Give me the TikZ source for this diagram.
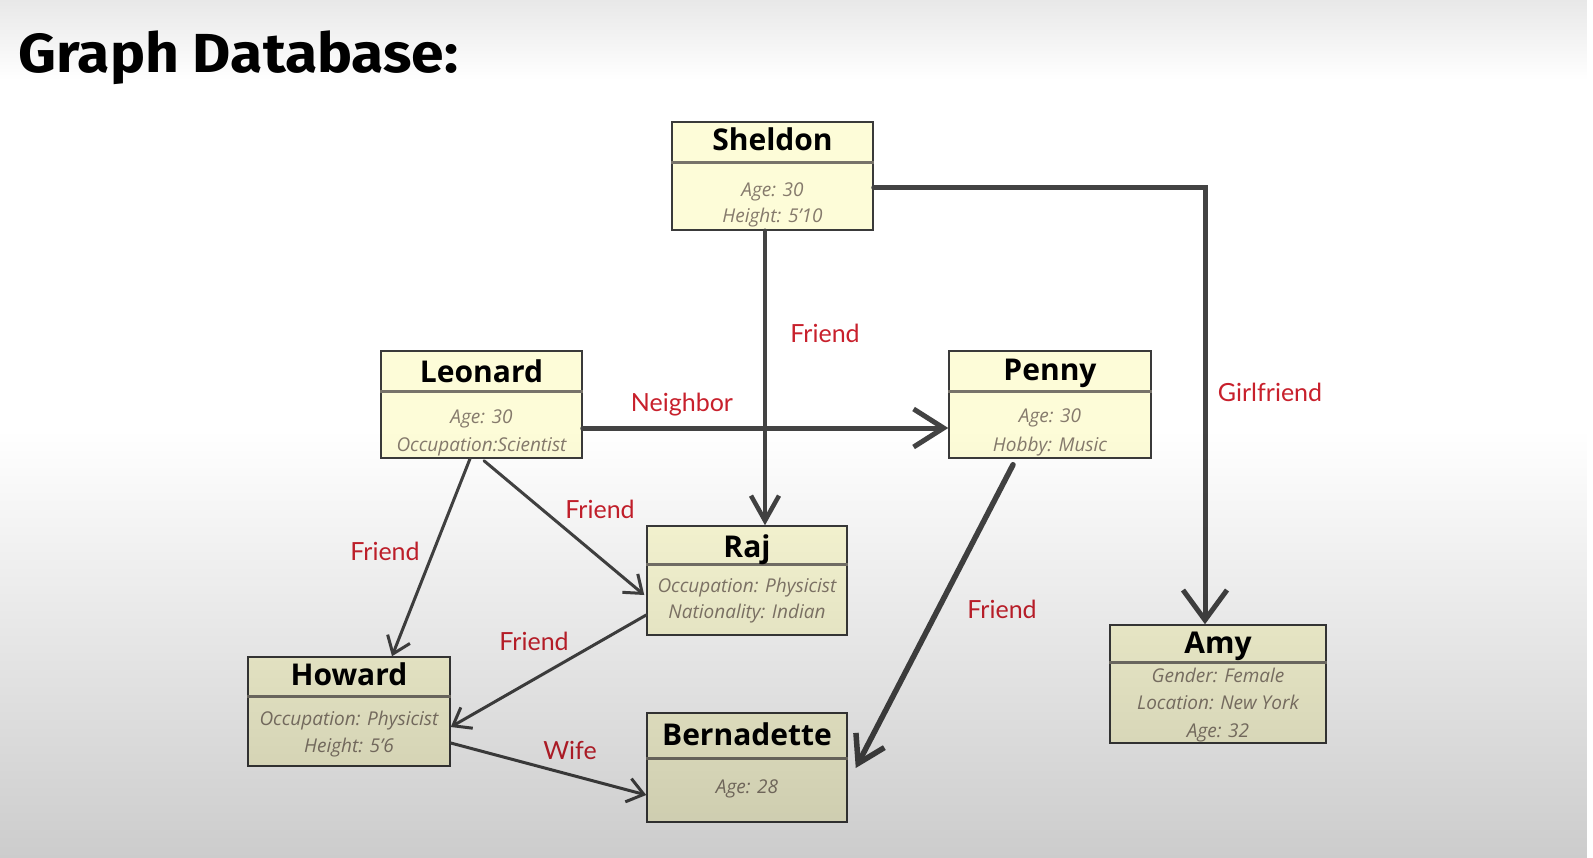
\documentclass[tikz,border=0pt]{standalone}
\usepackage{fontspec}
\setmainfont{Open Sans}
\newfontfamily\titlefont{Fira Sans}
\newfontfamily\labfont{Lato}
\usetikzlibrary{arrows.meta,calc,fadings}
\definecolor{boxfill}{HTML}{FDFCD8}
\definecolor{boxline}{HTML}{3A3A3A}
\definecolor{divcol}{HTML}{77736A}
\definecolor{attrcol}{HTML}{857A6C}
\definecolor{edgecol}{HTML}{434343}
\definecolor{labred}{HTML}{C8202C}
\tikzfading[name=fadedown, top color=transparent!100, bottom color=transparent!0]
\tikzfading[name=fadeup, top color=transparent!0, bottom color=transparent!100]
\begin{document}
\begin{tikzpicture}[x=1pt,y=-1pt,
  box/.style={draw=boxline, line width=1.5pt, fill=boxfill, inner sep=0pt},
  ttl/.style={font=\fontsize{30}{36}\selectfont\bfseries, text=black, inner sep=0pt, anchor=base},
  attr/.style={font=\fontsize{19}{27}\selectfont\itshape, text=attrcol, inner sep=0pt, anchor=base},
  divider/.style={draw=divcol, line width=3pt},
  edge/.style={draw=edgecol, line width=3pt, line cap=round},
  thin tip/.style={-{Straight Barb[length=16pt,width=24pt]}},
  lab/.style={font=\labfont\fontsize{25}{30}\selectfont, text=labred, inner sep=0pt, anchor=base}]
\useasboundingbox (0,0) rectangle (1593,858);
\fill[white] (0,0) rectangle (1593,858);

\node[anchor=base west, inner sep=0pt, xscale=1.07, transform shape, font=\titlefont\bfseries\fontsize{55}{60}\selectfont] (title) at (18,73) {Graph Database:};

% Sheldon
\node[box, minimum width=201pt, minimum height=108pt] (sheldon) at (772.5,176) {};
\draw[divider] (sheldon.west |- 0,163) -- (sheldon.east |- 0,163);
\node[ttl] (sheldonT) at (772.5,151) {Sheldon};
\node[attr] (sheldonA1) at (772.5,197) {Age: 30};
\node[attr] (sheldonA2) at (772.5,223) {Height: 5'10};

% Leonard
\node[box, minimum width=201pt, minimum height=107pt] (leonard) at (481.5,404.5) {};
\draw[divider] (leonard.west |- 0,392) -- (leonard.east |- 0,392);
\node[ttl] (leonardT) at (481.5,383) {Leonard};
\node[attr] (leonardA1) at (481.5,424) {Age: 30};
\node[attr] (leonardA2) at (481.5,451) {Occupation:Scientist};

% Penny
\node[box, minimum width=202pt, minimum height=107pt] (penny) at (1050,404.5) {};
\draw[divider] (penny.west |- 0,392) -- (penny.east |- 0,392);
\node[ttl] (pennyT) at (1050,381) {Penny};
\node[attr] (pennyA1) at (1050,423) {Age: 30};
\node[attr] (pennyA2) at (1050,451) {Hobby: Music};

% Raj
\node[box, minimum width=200pt, minimum height=109pt] (raj) at (747,580.5) {};
\draw[divider] (raj.west |- 0,564) -- (raj.east |- 0,564);
\node[ttl] (rajT) at (747,557) {Raj};
\node[attr] (rajA1) at (747,592) {Occupation: Physicist};
\node[attr] (rajA2) at (747,618) {Nationality: Indian};

% Howard
\node[box, minimum width=202pt, minimum height=109pt] (howard) at (349,711.5) {};
\draw[divider] (howard.west |- 0,696) -- (howard.east |- 0,696);
\node[ttl] (howardT) at (349,685) {Howard};
\node[attr] (howardA1) at (349,725) {Occupation: Physicist};
\node[attr] (howardA2) at (349,752) {Height: 5'6};

% Bernadette
\node[box, minimum width=200pt, minimum height=109pt] (bern) at (747,767.5) {};
\draw[divider] (bern.west |- 0,758) -- (bern.east |- 0,758);
\node[ttl] (bernT) at (747,745) {Bernadette};
\node[attr] (bernA1) at (747,793) {Age: 28};

% Amy
\node[box, minimum width=216pt, minimum height=118pt] (amy) at (1218,684) {};
\draw[divider] (amy.west |- 0,662) -- (amy.east |- 0,662);
\node[ttl] (amyT) at (1218,653) {Amy};
\node[attr] (amyA1) at (1218,682) {Gender: Female};
\node[attr] (amyA2) at (1218,709) {Location: New York};
\node[attr] (amyA3) at (1218,737) {Age: 32};

% connectors
\draw[edge, line width=5pt, -{Straight Barb[length=30pt,width=44pt]}]
  ($(sheldon.east)+(0,12)$) -| ($(amy.north)+(-13,0)$);
\draw[edge, line width=4.5pt, -{Straight Barb[length=25pt,width=28pt]}]
  ($(sheldon.south)+(-7.5,0)$) -- ($(raj.north)+(18,0)$);
\draw[edge, line width=5pt, -{Straight Barb[length=30pt,width=38pt]}]
  ($(leonard.east)+(0,23.5)$) -- ($(penny.west)+(0,23.5)$);
\draw[edge, thin tip] ($(leonard.south)+(-11.5,0)$) -- ($(howard.north)+(43,0)$);
\draw[edge, thin tip] ($(leonard.south)+(2.5,2)$) -- ($(raj.west)+(-2,14.5)$);
\draw[edge, thin tip] ($(raj.west)+(0,34.5)$) -- ($(howard.east)+(0,15.5)$);
\draw[edge, thin tip] ($(howard.east)+(0,31.5)$) -- ($(bern.west)+(0,27.5)$);
\draw[edge, line width=5.5pt, -{Straight Barb[length=26pt,width=32pt]}]
  ($(penny.south)+(-37,6)$) -- ($(bern.east)+(8,0.5)$);

% labels
\node[lab] (lNeighbor) at (682,412) {Neighbor};
\node[lab] (lF1) at (825,343) {Friend};
\node[lab] (lF2) at (600,518) {Friend};
\node[lab] (lF3) at (385,560) {Friend};
\node[lab] (lF4) at (534,650) {Friend};
\node[lab] (lWife) at (570,759) {Wife};
\node[lab] (lF5) at (1002,618) {Friend};
\node[lab] (lGirl) at (1270,402) {Girlfriend};

% lighting overlays
\fill[black, fill opacity=0.2, path fading=fadedown] (0,430) rectangle (1593,858);
\fill[black, fill opacity=0.09, path fading=fadeup] (0,0) rectangle (1593,80);
\end{tikzpicture}
\end{document}
